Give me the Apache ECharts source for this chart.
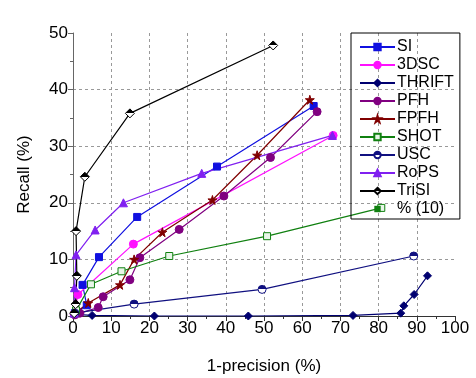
<!DOCTYPE html>
<html>
<head>
  <meta charset="utf-8">
  <title>Recall vs 1-precision</title>
  <script src="https://cdn.jsdelivr.net/npm/echarts@6/dist/echarts.min.js"></script>
  <style>
    body { margin: 0; background: #fff; }
    #chart { width: 476px; height: 378px; }
  </style>
</head>
<body>
  <div id="chart"></div>
  <script>
    // [1-precision, recall] pairs
    const siPts = [[0.5, 0.5], [3.6, 1.9], [2.5, 5.5], [6.8, 10.4], [16.8, 17.5], [37.7, 26.4], [63, 37.1]];
    const dscPts = [[0.3, 0.3], [1.3, 3.8], [15.8, 12.7], [68.1, 31.9]];
    const thriftPts = [[0.5, 0.3], [5, 0.1], [21.3, 0], [45.9, 0], [73.3, 0.1], [85.8, 0.5], [86.6, 1.8], [89.3, 3.8], [92.8, 7.1]];
    const pfhPts = [[0.5, 0.2], [1.8, 0.5], [6.6, 1.5], [7.9, 3.4], [14.9, 6.4], [17.5, 10.3], [27.8, 15.3], [39.5, 21.2], [51.7, 28], [63.9, 36.1]];
    const fpfhPts = [[0.5, 0.5], [4, 2.3], [12.3, 5.5], [16, 10], [23.4, 14.8], [36.5, 20.5], [48.2, 28.4], [62, 38.2]];
    const shotPts = [[0.8, 1.0], [4.7, 5.6], [12.7, 7.9], [25.2, 10.6], [50.8, 14.1], [80.7, 19.1]];
    const uscPts = [[0.5, 0.5], [16, 2.1], [49.5, 4.7], [89.2, 10.6]];
    const ropsPts = [[0.3, 0.5], [0.4, 5], [0.8, 10.8], [5.8, 15.2], [13.2, 20], [33.7, 25.2], [67.9, 31.9]];
    const trisiPts = [[0.3, 0.5], [0.7, 2.1], [1, 7.1], [0.8, 15], [3.1, 24.6], [14.9, 35.8], [52.4, 47.8]];

    const star = 'path://M50,0 L61,35 L98,35 L68,57 L79,91 L50,70 L21,91 L32,57 L2,35 L39,35 Z';
    function half(c) {
      return new echarts.graphic.LinearGradient(0, 0, 0, 1, [
        { offset: 0, color: c }, { offset: 0.5, color: c },
        { offset: 0.5, color: '#fff' }, { offset: 1, color: '#fff' }
      ]);
    }
    function line(name, data, color, symbol, size, fill) {
      return {
        name: name, type: 'line', data: data,
        symbol: symbol, symbolSize: size,
        lineStyle: { color: color, width: 1.2 },
        itemStyle: { color: fill || color, borderColor: color, borderWidth: 1 },
        emphasis: { disabled: true },
        z: 2
      };
    }

    let myChart = echarts.init(document.getElementById('chart'));
    const font = 'Liberation Sans, Arial, sans-serif';
    let option = {
      animation: false,
      textStyle: { fontFamily: font },
      grid: { left: 73, right: 21, top: 33, bottom: 62, outerBoundsMode: 'none', containLabel: false },
      legend: {
        orient: 'vertical',
        left: 351, top: 33,
        padding: [6, 6, 2, 8],
        borderColor: '#000', borderWidth: 1,
        itemWidth: 35, itemHeight: 8, itemGap: 2,
        textStyle: { fontSize: 16, color: '#000', fontFamily: font, lineHeight: 16, padding: [0, 0, 0, -3] },
        data: ['SI', '3DSC', 'THRIFT', 'PFH', 'FPFH', 'SHOT', 'USC', 'RoPS', 'TriSI', '% (10)']
      },
      xAxis: {
        type: 'value', min: 0, max: 100, interval: 10,
        name: '1-precision (%)', nameLocation: 'middle', nameGap: 42,
        nameTextStyle: { fontSize: 17, color: '#000' },
        axisLine: { show: true, lineStyle: { color: '#333', width: 1 } },
        axisTick: { show: true, inside: false, length: 5, lineStyle: { color: '#333' } },
        minorTick: { show: true, splitNumber: 2, length: 3, lineStyle: { color: '#333' } },
        axisLabel: { fontSize: 17, color: '#000', margin: 4 },
        splitLine: { show: true, showMinLine: false, showMaxLine: false, lineStyle: { color: '#999', type: [3, 3] } }
      },
      yAxis: {
        type: 'value', min: 0, max: 50, interval: 10,
        name: 'Recall (%)', nameLocation: 'middle', nameGap: 40, nameRotate: 90,
        nameTextStyle: { fontSize: 17, color: '#000' },
        axisLine: { show: true, lineStyle: { color: '#666', width: 1 } },
        axisTick: { show: true, inside: false, length: 5, lineStyle: { color: '#666' } },
        minorTick: { show: true, splitNumber: 2, length: 3, lineStyle: { color: '#666' } },
        axisLabel: { fontSize: 17, color: '#000', margin: 5 },
        splitLine: { show: true, showMinLine: false, showMaxLine: false, lineStyle: { color: '#999', type: [3, 3] } }
      },
      series: [
        line('SI', siPts, '#1010e0', 'rect', 7),
        line('3DSC', dscPts, '#ff10ff', 'circle', 8),
        line('THRIFT', thriftPts, '#000070', 'diamond', 8),
        line('PFH', pfhPts, '#800080', 'circle', 8),
        line('FPFH', fpfhPts, '#800000', star, 9),
        line('SHOT', shotPts, '#108010', 'rect', 7, '#e8f5e8'),
        line('USC', uscPts, '#101080', 'circle', 8, half('#101080')),
        line('RoPS', ropsPts, '#8020f0', 'triangle', 8),
        line('TriSI', trisiPts, '#000', 'diamond', 9, half('#000')),
        {
          name: '% (10)', type: 'line', data: [],
          symbol: 'rect', symbolSize: 7,
          lineStyle: { width: 0, color: '#108010' },
          itemStyle: { color: '#108010' }
        }
      ]
    };
    myChart.setOption(option);
  </script>
</body>
</html>
